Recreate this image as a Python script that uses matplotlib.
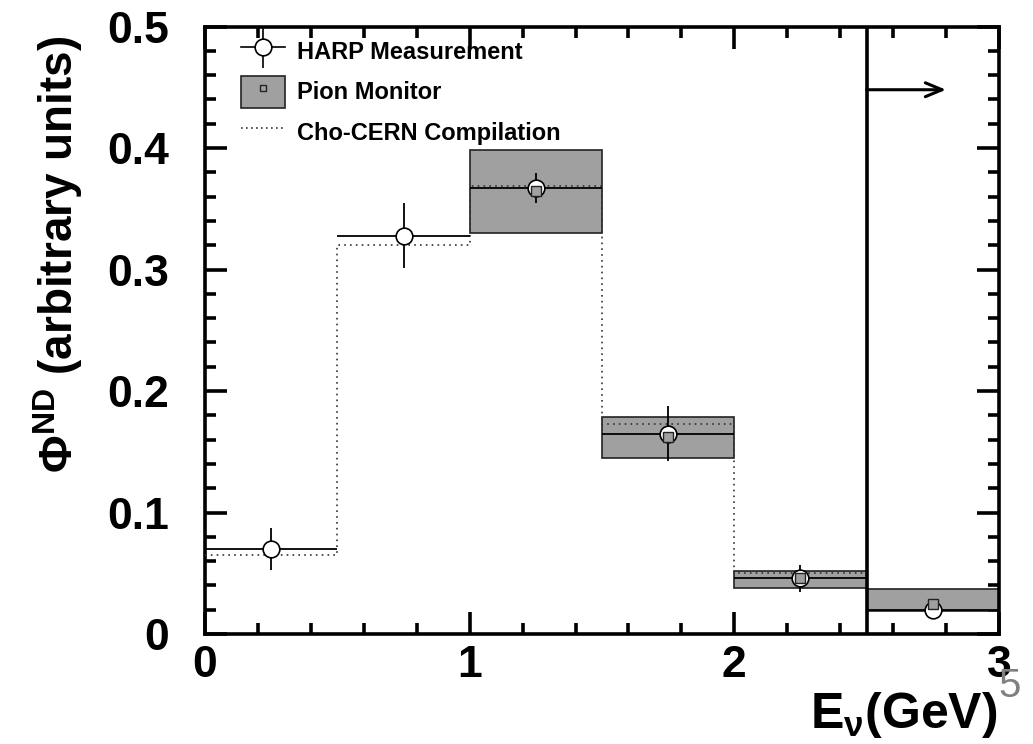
import matplotlib
matplotlib.use("Agg")
import matplotlib.pyplot as plt
import numpy as np
from matplotlib.patches import Patch
from matplotlib.lines import Line2D
from matplotlib.ticker import MultipleLocator

plt.rcParams['font.family'] = ['Liberation Sans', 'DejaVu Sans']
plt.rcParams['mathtext.fontset'] = 'custom'
plt.rcParams['mathtext.rm'] = 'Liberation Sans:bold'
plt.rcParams['mathtext.it'] = 'Liberation Sans:bold'
plt.rcParams['mathtext.bf'] = 'Liberation Sans:bold'

# Data
bin_edges = [0.0, 0.5, 1.0, 1.5, 2.0, 2.5, 3.0]
harp_values = [0.070, 0.328, 0.367, 0.165, 0.046, 0.020]
harp_errors = [0.017, 0.027, 0.0125, 0.0225, 0.011, 0.004]
pion_centers = [1.25, 1.75, 2.25, 2.75]
pion_low = [0.330, 0.145, 0.038, 0.019]
pion_high = [0.398, 0.179, 0.052, 0.037]
pion_values = [0.365, 0.162, 0.046, 0.025]
cho_edges = [0.0, 0.5, 1.0, 1.5, 2.0, 2.5]
cho_values = [0.065, 0.320, 0.369, 0.173, 0.050]
x_ticks = [0, 1, 2, 3]
y_ticks = [0, 0.1, 0.2, 0.3, 0.4, 0.5]
x_ticklabels = ['0', '1', '2', '3']
y_ticklabels = ['0', '0.1', '0.2', '0.3', '0.4', '0.5']
cut_energy = 2.5
arrow_end = 2.8
arrow_y = 0.448

fig = plt.figure(figsize=(10.33, 7.44), dpi=100)
ax = fig.add_axes([0.1985, 0.1478, 0.7685, 0.8165])
ax.set_xlim(0, 3)
ax.set_ylim(0, 0.5)

edges = np.array(bin_edges)
centers = 0.5 * (edges[:-1] + edges[1:])
halfw = 0.5 * (edges[1:] - edges[:-1])

# Pion monitor boxes
pc = np.array(pion_centers)
lo = np.array(pion_low)
hi = np.array(pion_high)
ax.bar(pc, hi - lo, bottom=lo, width=0.5, color='#a0a0a0',
       edgecolor='#222222', linewidth=1.2, zorder=2)

# Cho-CERN compilation
ax.stairs(cho_values, cho_edges, baseline=None, linestyle=(0, (1, 2.5)),
          color='#333333', linewidth=1.2, zorder=3)

# HARP measurement
ax.errorbar(centers, harp_values, xerr=halfw, yerr=harp_errors, fmt='o',
            color='black', mfc='white', mec='black', ms=12, mew=1.2,
            elinewidth=1.3, capsize=0, zorder=4)

# Pion monitor central values
ax.plot(pc, pion_values, 's', ms=7, mfc='#a0a0a0', mec='#222222',
        mew=1.0, zorder=5)

# Cut line and arrow
ax.plot([cut_energy, cut_energy], [0, 0.5], color='black', lw=2.6, zorder=6)
ax.annotate('', xy=(arrow_end, arrow_y), xytext=(cut_energy, arrow_y),
            arrowprops=dict(arrowstyle='->,head_length=1.2,head_width=0.5',
                            lw=2.2, color='black', shrinkA=0, shrinkB=0))

# Axes styling
for s in ax.spines.values():
    s.set_linewidth(2.6)
ax.set_xticks(x_ticks)
ax.set_xticklabels(x_ticklabels)
ax.set_yticks(y_ticks)
ax.set_yticklabels(y_ticklabels)
ax.xaxis.set_minor_locator(MultipleLocator(0.2))
ax.yaxis.set_minor_locator(MultipleLocator(0.02))
ax.tick_params(which='both', direction='in', top=True, right=True)
ax.tick_params(which='major', length=16, width=2.6, labelsize=32)
ax.tick_params(which='minor', length=8, width=2.6)
ax.tick_params(axis='y', which='major', pad=26)
ax.tick_params(axis='x', which='major', pad=8)
for lab in ax.get_xticklabels() + ax.get_yticklabels():
    lab.set_fontweight('bold')

fig.text(0.966, 0.006, r'E$_{\nu}$(GeV)', ha='right', va='bottom',
         fontsize=36, fontweight='bold')
fig.text(0.977, 0.052, '5', color='#808080', fontsize=29,
         ha='center', va='bottom')
fig.text(0.056, 0.658, r'$\Phi^{\mathbf{ND}}$ (arbitrary units)', rotation=90,
         ha='center', va='center', fontsize=33, fontweight='bold')

# Legend
h_harp = (Line2D([], [], color='black', lw=1.2),
          Line2D([], [], ls='none', marker='|', ms=30, mew=1.2, color='black'),
          Line2D([], [], ls='none', marker='o', ms=12, mfc='white',
                 mec='black', mew=1.2))
h_pion = (Patch(facecolor='#a0a0a0', edgecolor='#222222', lw=1.2),
          Line2D([], [], ls='none', marker='s', ms=5, mfc='#a0a0a0', mec='#222222'))
h_cho = Line2D([], [], color='#333333', ls=(0, (1, 2)), lw=1.2)
leg = ax.legend([h_harp, h_pion, h_cho],
                ['HARP Measurement', 'Pion Monitor', 'Cho-CERN Compilation'],
                loc='upper left', bbox_to_anchor=(0.018, 1.02), frameon=False,
                prop=dict(size=17, weight='bold'), handlelength=1.9,
                handleheight=1.7, labelspacing=0.35, handletextpad=0.5)

fig.savefig('out.png', dpi=100)
